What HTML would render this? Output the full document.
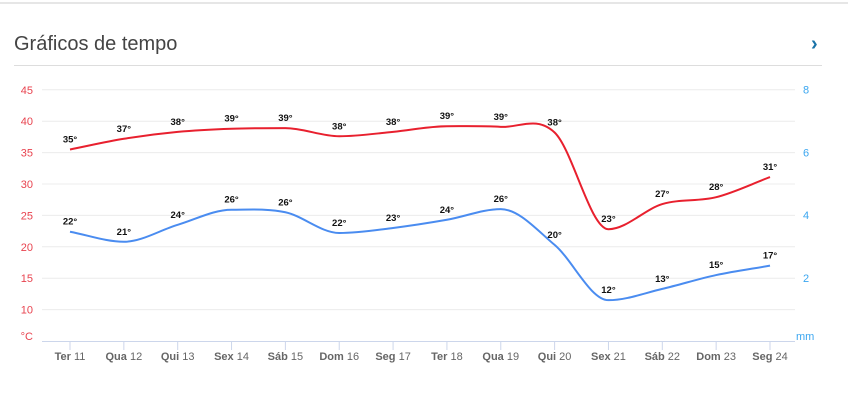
<!DOCTYPE html>
<html><head><meta charset="utf-8"><style>
body{margin:0;width:848px;height:400px;background:#fff;font-family:"Liberation Sans",Arial,sans-serif;overflow:hidden;position:relative}
.top{position:absolute;left:0;top:2px;width:848px;height:2px;background:#e6e6e6}
h1{position:absolute;left:14px;top:33px;margin:0;font-size:20px;font-weight:normal;color:#444}
.rule{position:absolute;left:14px;top:65px;width:808px;height:1px;background:#ddd}
.chev{position:absolute;left:811px;top:33px;color:#1a73a8;font-size:20px;font-weight:bold}
svg{position:absolute;left:0;top:0}
</style></head><body>
<div class="top"></div>
<h1>Gráficos de tempo</h1>
<div class="rule"></div>
<div class="chev">›</div>
<svg id="chart" width="848" height="400"></svg>
<script>
const categories=["Ter 11","Qua 12","Qui 13","Sex 14","Sáb 15","Dom 16","Seg 17","Ter 18","Qua 19","Qui 20","Sex 21","Sáb 22","Dom 23","Seg 24"];
const maxTemps=[35.5,37.2,38.3,38.8,38.9,37.6,38.3,39.2,39.1,38.2,22.8,26.8,27.9,31.1];
const maxLabels=[35,37,38,39,39,38,38,39,39,38,23,27,28,31];
const minTemps=[22.4,20.8,23.5,25.9,25.5,22.2,23,24.3,26,20.3,11.5,13.3,15.5,17];
const minLabels=[22,21,24,26,26,22,23,24,26,20,12,13,15,17];
const leftTicks=[10,15,20,25,30,35,40,45];
const rightTicks=[2,4,6,8];
const NS="http://www.w3.org/2000/svg";
const svg=document.getElementById('chart');
const x=i=>70+i*(700/13);
const y=v=>341-(v-5)*(31.4/5);
const yr=v=>341-v*31.45;
function mk(t,a,txt){const e=document.createElementNS(NS,t);for(const k in a)e.setAttribute(k,a[k]);if(txt!==undefined)e.textContent=txt;svg.appendChild(e);return e;}
leftTicks.forEach(t=>{
 const g=mk('line',{x1:42,x2:795,y1:y(t),y2:y(t),stroke:'#ececec','stroke-width':1});
 
 
 const l=mk('text',{x:33,y:y(t)+4,'text-anchor':'end','font-size':11,fill:'#e8434f'},t);
 
 
});
const cu=mk('text',{x:33,y:340,'text-anchor':'end','font-size':11,fill:'#e8434f'},'°C');


rightTicks.forEach(t=>{
 const l=mk('text',{x:803,y:yr(t)+4,'font-size':11,fill:'#3aa6f0'},t);
 
 
});
const mm=mk('text',{x:796,y:340,'font-size':11,fill:'#3aa6f0'},'mm');


const ax=mk('line',{x1:42,x2:795,y1:341.5,y2:341.5,stroke:'#ccd6eb'});


categories.forEach((c,i)=>{
 const tk=mk('line',{x1:x(i),x2:x(i),y1:342,y2:350,stroke:'#ccd6eb'});
 
 
 const parts=c.split(' ');
 const t=mk('text',{x:x(i),y:360,'text-anchor':'middle','font-size':11,fill:'#666'});
 
 
 const b=document.createElementNS(NS,'tspan');b.setAttribute('font-weight','bold');b.textContent=parts[0];t.appendChild(b);
 const n=document.createElementNS(NS,'tspan');n.textContent=' '+parts[1];t.appendChild(n);
});
function path(vals){
 const p=vals.map((v,i)=>[x(i),y(v)]);const n=p.length;
 const d=[],m=[];
 for(let i=0;i<n-1;i++)d.push((p[i+1][1]-p[i][1])/(p[i+1][0]-p[i][0]));
 m[0]=d[0];m[n-1]=d[n-2];
 for(let i=1;i<n-1;i++)m[i]=(d[i-1]*d[i]<=0)?0:(d[i-1]+d[i])/2;
 let s=`M${p[0][0]},${p[0][1]}`;
 for(let i=0;i<n-1;i++){const h=(p[i+1][0]-p[i][0])/3;
  s+=` C${p[i][0]+h},${p[i][1]+m[i]*h} ${p[i+1][0]-h},${p[i+1][1]-m[i+1]*h} ${p[i+1][0]},${p[i+1][1]}`;}
 return s;
}
const r=mk('path',{d:path(maxTemps),fill:'none',stroke:'#e8202e','stroke-width':2});


const bl=mk('path',{d:path(minTemps),fill:'none',stroke:'#4a8cf0','stroke-width':2});


function labels(vals,labs,nm){vals.forEach((v,i)=>{
 const t=mk('text',{x:x(i),y:y(v)-7,'text-anchor':'middle','font-size':9.5,'font-weight':'bold',fill:'#111'},labs[i]+'°');
 
 
});}
labels(maxTemps,maxLabels,'max-temp-label');
labels(minTemps,minLabels,'min-temp-label');
</script>
</body></html>
